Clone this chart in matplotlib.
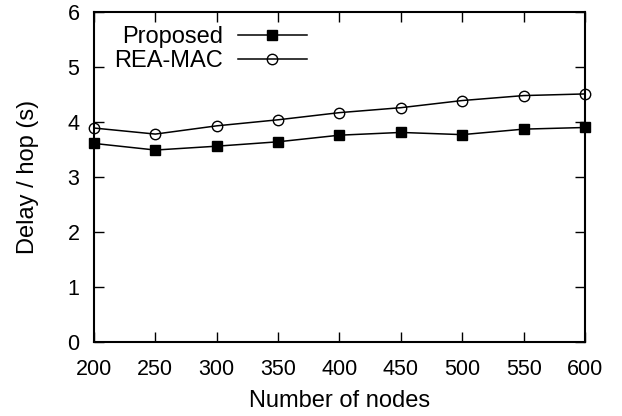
import matplotlib
matplotlib.use("Agg")
import matplotlib.pyplot as plt

nodes = [200, 250, 300, 350, 400, 450, 500, 550, 600]
proposed = [3.61, 3.49, 3.56, 3.64, 3.76, 3.81, 3.77, 3.87, 3.90]
rea_mac = [3.89, 3.78, 3.93, 4.04, 4.17, 4.26, 4.39, 4.48, 4.51]
xticks = [200, 250, 300, 350, 400, 450, 500, 550, 600]
yticks = [0, 1, 2, 3, 4, 5, 6]

plt.rcParams['font.family'] = ['Liberation Sans', 'DejaVu Sans']
plt.rcParams['font.size'] = 15.5

fig = plt.figure(figsize=(6.22, 4.16), dpi=100)
ax = fig.add_axes([0.1511, 0.1779, 0.7894, 0.7933])

ax.plot(nodes, proposed, color='black', lw=1.1, marker='s', ms=7.2,
        mfc='black', mec='black', label='Proposed', clip_on=False, zorder=3)
ax.plot(nodes, rea_mac, color='black', lw=1.1, marker='o', ms=7.5,
        mfc='none', mec='black', mew=1.0, label='REA-MAC', clip_on=False, zorder=3)

ax.set_xlim(200, 600)
ax.set_ylim(0, 6)
ax.set_xticks(xticks)
ax.set_yticks(yticks)
ax.tick_params(direction='in', length=7.2, width=1.0, top=True, right=True,
               labelsize=15.5)
ax.tick_params(axis='x', pad=12)
ax.tick_params(axis='y', pad=10.5)
for s in ax.spines.values():
    s.set_linewidth(1.5)
ax.set_xlabel('Number of nodes', fontsize=17, labelpad=7.5)
ax.set_ylabel('Delay / hop (s)', fontsize=17, labelpad=20)

leg = ax.legend(loc='upper left', markerfirst=False, frameon=False,
                fontsize=17, handlelength=2.95, borderaxespad=0, borderpad=0,
                labelspacing=0.07, handletextpad=0.6,
                bbox_to_anchor=(0.042, 0.957))
for t in leg.get_texts():
    t.set_ha('right')

fig.savefig('out.png', dpi=100)
